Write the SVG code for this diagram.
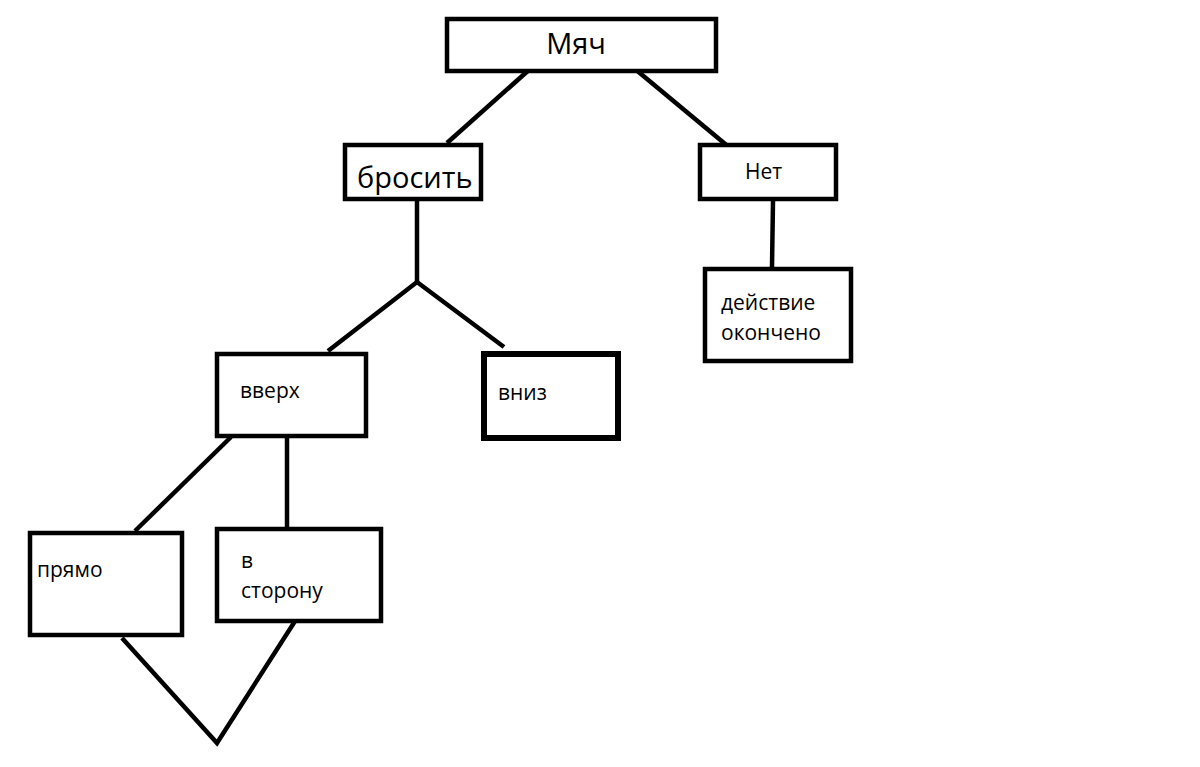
<svg xmlns="http://www.w3.org/2000/svg" width="1200" height="767" viewBox="0 0 1200 767">
<style>
.box{fill:#fff;stroke:#000;stroke-width:4.5}
.thick{stroke-width:6}
.lbl{font-family:"Open Sans","Noto Sans","DejaVu Sans",sans-serif;fill:#000}
.c line,.c polyline{stroke:#000;stroke-width:4.5;fill:none}
</style>
<rect width="1200" height="767" fill="#fff"/>
<g class="c" id="connectors">
<line x1="530" y1="69" x2="447" y2="143"/>
<line x1="635" y1="69" x2="730" y2="148"/>
<line x1="773" y1="201" x2="772" y2="267"/>
<line x1="417" y1="201" x2="417" y2="283"/>
<polyline points="328,351 417,282 504,347"/>
<line x1="231" y1="437" x2="135" y2="531"/>
<line x1="287" y1="438" x2="287" y2="527"/>
<polyline points="122,638 217,743 297,618"/>
</g>
<g id="n-myach"><rect class="box" x="447" y="19" width="269" height="52"/><text class="lbl" x="576" y="54" font-size="29" text-anchor="middle">Мяч</text></g>
<g id="n-brosit"><rect class="box" x="345" y="145" width="136" height="54"/><text class="lbl" x="357" y="188" font-size="29">бросить</text></g>
<g id="n-net"><rect class="box" x="700" y="145" width="136" height="54"/><text class="lbl" x="745" y="179" font-size="21">Нет</text></g>
<g id="n-deystvie"><rect class="box" x="705" y="269" width="146" height="92"/><text class="lbl" font-size="21"><tspan x="721" y="310">действие</tspan><tspan x="721" y="340">окончено</tspan></text></g>
<g id="n-vverh"><rect class="box" x="217" y="354" width="149" height="82"/><text class="lbl" x="240" y="398" font-size="21">вверх</text></g>
<g id="n-vniz"><rect class="box thick" x="484" y="354" width="134" height="84"/><text class="lbl" x="498" y="400" font-size="21">вниз</text></g>
<g id="n-pryamo"><rect class="box" x="30" y="533" width="152" height="102"/><text class="lbl" x="37" y="577" font-size="21">прямо</text></g>
<g id="n-vstoronu"><rect class="box" x="217" y="529" width="164" height="92"/><text class="lbl" font-size="21"><tspan x="241" y="568">в</tspan><tspan x="241" y="598">сторону</tspan></text></g>
</svg>
